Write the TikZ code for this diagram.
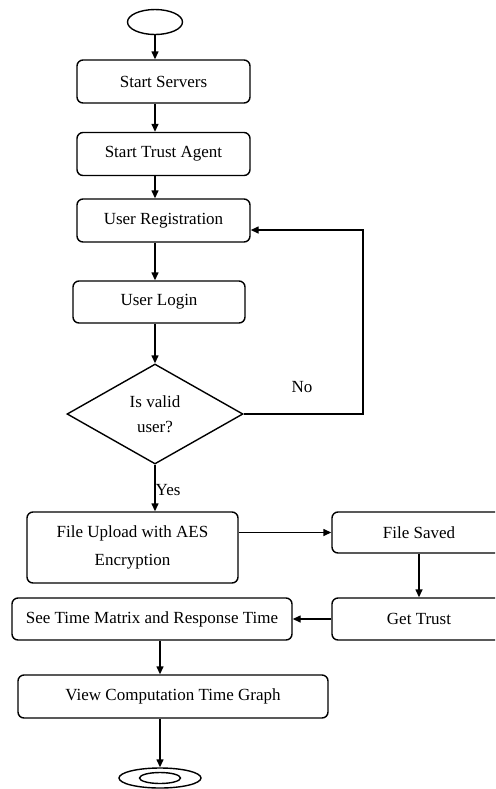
\documentclass[tikz,border=0pt]{standalone}
\usepackage{fontspec}
\setmainfont{Liberation Serif}
\usetikzlibrary{arrows.meta,positioning,shapes.geometric,calc}

\begin{document}
\begin{tikzpicture}[x=0.5pt, y=-0.5pt,
    box/.style={draw, rounded corners=3pt, line width=0.7pt, align=center, inner sep=0pt,
      minimum width=86.5pt, minimum height=21.5pt, font=\fontsize{8.5}{14}\selectfont},
    term/.style={draw, ellipse, line width=0.7pt, inner sep=0pt},
    dec/.style={draw, diamond, line width=0.7pt, align=center, inner sep=0pt,
      minimum width=88pt, minimum height=50pt, font=\fontsize{8.5}{12.5}\selectfont},
    lbl/.style={font=\fontsize{8.5}{10}\selectfont, inner sep=1pt},
    ar/.style={-{Triangle[length=4pt,width=3.5pt]}, line width=0.7pt},
  ]
  \useasboundingbox (0,0) rectangle (495,789);
  \clip (0,0) rectangle (495,789);
  \node[term, minimum width=27.5pt, minimum height=12.5pt] (start) at (155,22) {};
  \node[box] (srv) at (163.5,81.5) {Start Servers};
  \node[box] (agent) at (163.5,154) {Start Trust Agent};
  \node[box] (reg) at (163.5,220.5) {User Registration};
  \node[box, minimum width=86pt, minimum height=21pt] (login) at (159,302) {User Login};
  \node[dec] (valid) at (155,414) {Is valid\\user?};
  \node[box, minimum width=105.5pt, minimum height=35.5pt] (upload) at (132.5,547.5) {File Upload with AES\\Encryption};
  \node[box, minimum width=87pt, minimum height=20.5pt] (saved) at (419,532.5) {File Saved};
  \node[box, minimum width=87pt, minimum height=21pt] (gettrust) at (419,619) {Get Trust};
  \node[box, minimum width=140pt, minimum height=21pt] (matrix) at (152,619) {See Time Matrix and Response Time};
  \node[box, minimum width=155pt] (graph) at (173,696.5) {View Computation Time Graph};
  \node[term, minimum width=41pt, minimum height=10pt] (stop) at (160,778) {};
  \node[term, minimum width=20.5pt, minimum height=5.5pt] (stopin) at (160,778) {};
  \coordinate (back) at (363,230);
  \node[lbl] (no) at (302,387) {No};

  \draw[ar] (start) -- (start |- srv.north);
  \draw[ar] (start |- srv.south) -- (start |- agent.north);
  \draw[ar] (start |- agent.south) -- (start |- reg.north);
  \draw[ar] (start |- reg.south) -- (start |- login.north);
  \draw[ar] (start |- login.south) -- (valid.north);
  \draw[ar] (valid.east) -| (back) -- (back -| reg.east);
  \draw[ar] (valid.south) -- (valid.south |- upload.north)
    node[lbl, pos=0.55, right=-1pt] {Yes};
  \draw[ar] (upload.east |- saved) -- (saved.west);
  \draw[ar] (saved.south) -- (gettrust.north);
  \draw[ar] (gettrust.west) -- (matrix.east);
  \draw[ar] (stop |- matrix.south) -- (stop |- graph.north);
  \draw[ar] (stop |- graph.south) -- (stop.north);
\end{tikzpicture}
\end{document}
